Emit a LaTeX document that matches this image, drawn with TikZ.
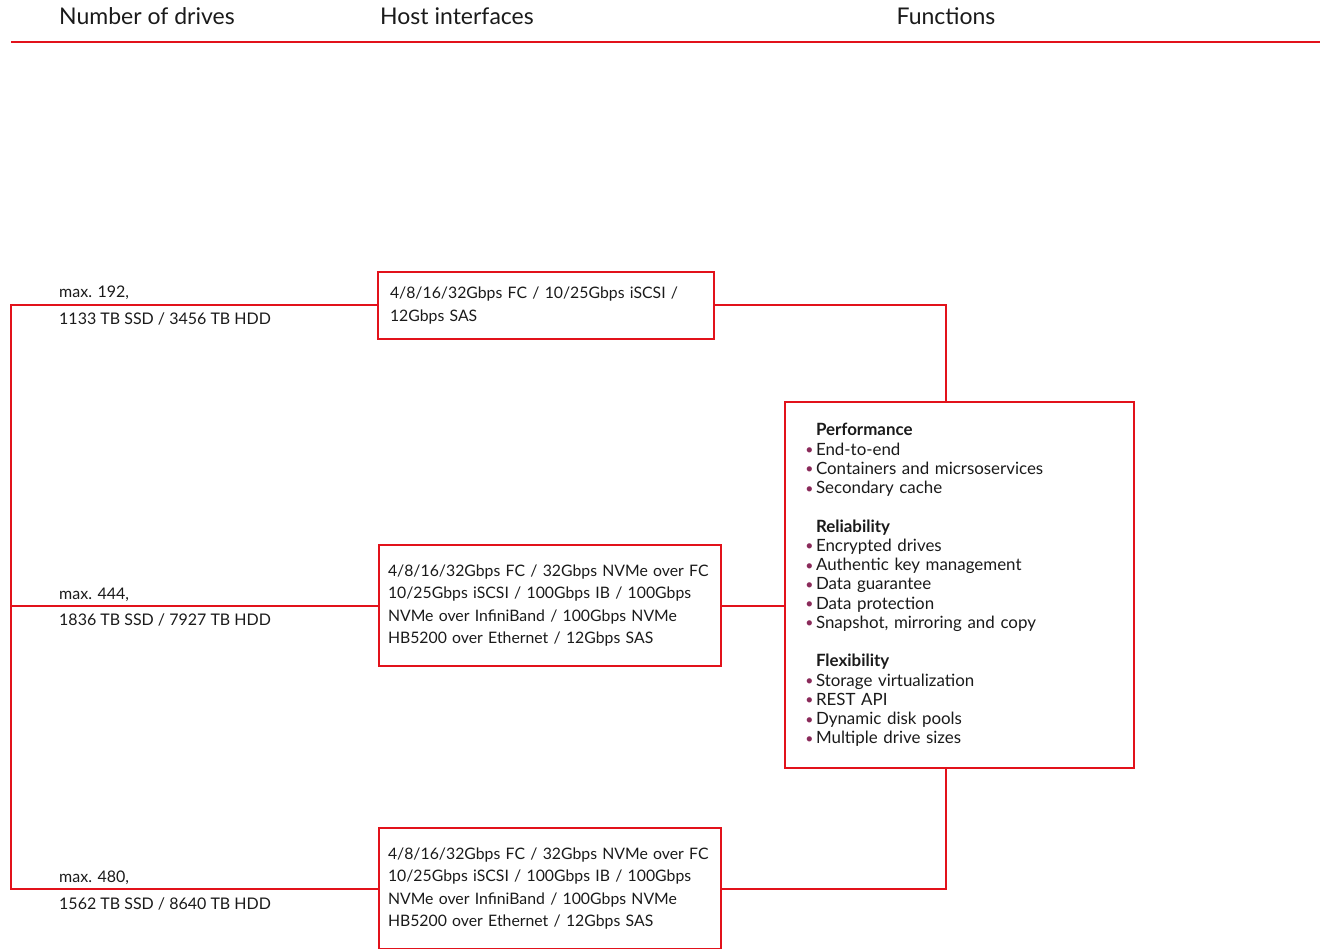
\documentclass[tikz,border=0pt]{standalone}
\usepackage{fontspec}
\setmainfont{Lato}
\definecolor{fred}{HTML}{E2121B}
\definecolor{bul}{HTML}{8A2A5A}
\definecolor{txt}{HTML}{1A1A1A}
\newcommand{\bu}{\makebox[0pt][r]{\textcolor{bul}{\raisebox{0.05ex}{\fontsize{14}{14}\selectfont\textbullet}}\hspace{2.5pt}}}
\begin{document}
\begin{tikzpicture}[x=1pt,y=-1pt,
  box/.style={draw=fred,line width=2pt,align=left,anchor=north west,outer sep=0pt,
    inner ysep=0pt,text=txt,font=\fontsize{15.8}{22.3}\selectfont},
  conn/.style={draw=fred,line width=2pt},
  lbl/.style={anchor=base west,inner sep=0pt,text=txt,font=\fontsize{16}{18}\selectfont},
  hdr/.style={inner sep=0pt,text=txt,font=\fontsize{23}{26}\selectfont}]
\useasboundingbox (0,0) rectangle (1327,949);
\clip (0,0) rectangle (1327,949);
% headers
\node[hdr,anchor=base west] (h1) at (59,25) {Number of drives};
\node[hdr,anchor=base west] (h2) at (380,25) {Host interfaces};
\node[hdr,anchor=base] (h3) at (946,25) {Functions};
\coordinate (rl) at (11,42);
\coordinate (rr) at (1320,42);
\draw[conn] (rl) -- (rr);
% interface boxes
\node[box,inner xsep=12pt,text width=312pt,minimum height=67pt] (b1) at (378,272)
  {4/8/16/32Gbps FC / 10/25Gbps iSCSI /\\12Gbps SAS};
\node[box,inner xsep=9pt,text width=324pt,minimum height=121pt] (b2) at (379,545)
  {4/8/16/32Gbps FC / 32Gbps NVMe over FC\\10/25Gbps iSCSI / 100Gbps IB / 100Gbps\\NVMe over InfiniBand / 100Gbps NVMe\\HB5200 over Ethernet / 12Gbps SAS};
\node[box,inner xsep=9pt,text width=324pt,minimum height=121pt] (b3) at (379,828)
  {4/8/16/32Gbps FC / 32Gbps NVMe over FC\\10/25Gbps iSCSI / 100Gbps IB / 100Gbps\\NVMe over InfiniBand / 100Gbps NVMe\\HB5200 over Ethernet / 12Gbps SAS};
% functions box
\node[box,inner xsep=31pt,text width=287pt,minimum height=366pt,font=\fontsize{16.9}{19.25}\selectfont] (fb) at (785,402)
  {\textbf{Performance}\\
   \bu End-to-end\\
   \bu Containers and micrsoservices\\
   \bu Secondary cache\\[19.25pt]
   \textbf{Reliability}\\
   \bu Encrypted drives\\
   \bu Authentic key management\\
   \bu Data guarantee\\
   \bu Data protection\\
   \bu Snapshot, mirroring and copy\\[19.25pt]
   \textbf{Flexibility}\\
   \bu Storage virtualization\\
   \bu REST API\\
   \bu Dynamic disk pools\\
   \bu Multiple drive sizes};
% drive labels
\node[lbl] (l1a) at (59,297.5) {max. 192,};
\node[lbl] (l1b) at (59,324.5) {1133 TB SSD / 3456 TB HDD};
\node[lbl] (l2a) at (59,599.5) {max. 444,};
\node[lbl] (l2b) at (59,625.5) {1836 TB SSD / 7927 TB HDD};
\node[lbl] (l3a) at (59,882.5) {max. 480,};
\node[lbl] (l3b) at (59,909.5) {1562 TB SSD / 8640 TB HDD};
% connectors
\coordinate (t1) at (b1.west -| rl);
\coordinate (t2) at (b2.west -| rl);
\coordinate (t3) at (b3.west -| rl);
\draw[conn] (b1.west) -- (t1) -- (t3) -- (b3.west);
\draw[conn] (t2) -- (b2.west);
\coordinate (ft) at (946,402);
\coordinate (fbm) at (946,768);
\draw[conn] (b1.east) -| (ft);
\draw[conn] (b2.east) -- (b2.east -| fb.west);
\draw[conn] (b3.east) -| (fbm);
\end{tikzpicture}
\end{document}
